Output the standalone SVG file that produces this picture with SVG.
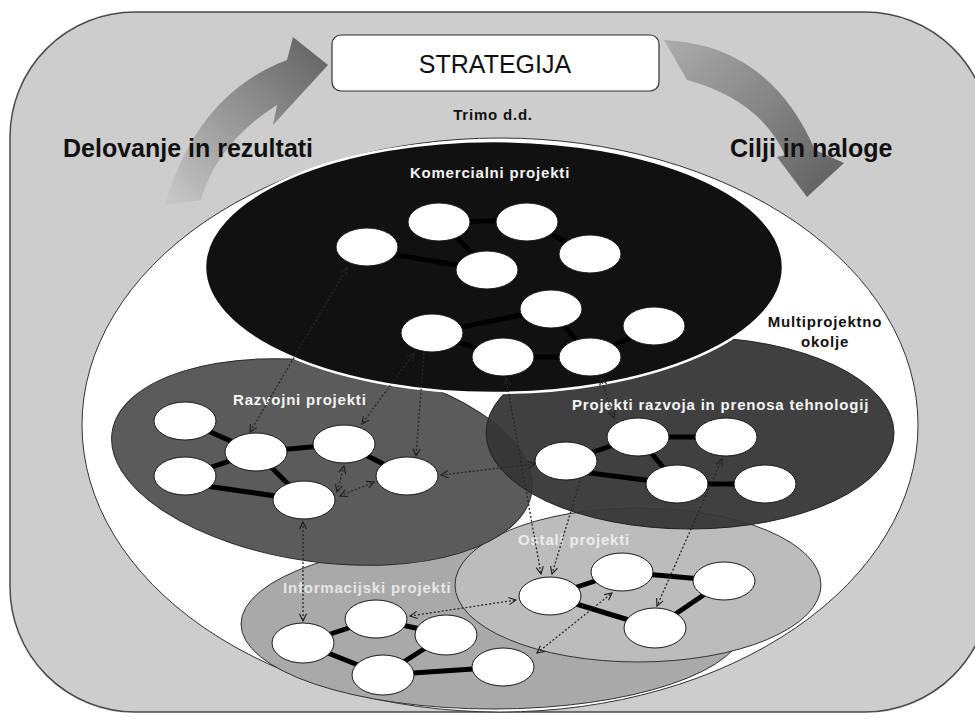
<svg xmlns="http://www.w3.org/2000/svg" width="975" height="719" viewBox="0 0 975 719">
<defs>
<linearGradient id="gL" gradientUnits="userSpaceOnUse" x1="175" y1="205" x2="318" y2="55">
<stop offset="0" stop-color="#c6c6c6"/><stop offset="0.45" stop-color="#9c9c9c"/><stop offset="1" stop-color="#686868"/>
</linearGradient>
<linearGradient id="gR" gradientUnits="userSpaceOnUse" x1="665" y1="45" x2="820" y2="190">
<stop offset="0" stop-color="#ababab"/><stop offset="1" stop-color="#646464"/>
</linearGradient>
<marker id="ah" viewBox="0 0 10 10" refX="9" refY="5" markerWidth="9" markerHeight="9" markerUnits="userSpaceOnUse" orient="auto-start-reverse">
<path d="M1,1 L9,5 L1,9" fill="none" stroke="#222" stroke-width="1.3"/>
</marker>
</defs>
<style>
.t{font-family:"Liberation Sans",Arial,sans-serif}
.lbl{font-size:15px;font-weight:bold;letter-spacing:0.8px}
.big{font-size:25px;font-weight:bold}
.w{fill:#f4f4f4}
.n ellipse{fill:#fff;stroke:#1a1a1a;stroke-width:1}
.link{stroke:#000;stroke-width:5;fill:none}
.dot{stroke:#262626;stroke-width:1.3;stroke-dasharray:2 2;fill:none;marker-start:url(#ah);marker-end:url(#ah)}
.dot1{stroke:#262626;stroke-width:1.3;stroke-dasharray:2 2;fill:none;marker-end:url(#ah)}
</style>
<rect width="975" height="719" fill="#fff"/>
<rect id="frame" x="10" y="12" width="980" height="700" rx="125" ry="125" fill="#cdcdcd" stroke="#4a4a4a" stroke-width="1.5"/>

<g id="arrow-left">
<path d="M165,205 Q197,94 287,60 L293,37 L328,65 L273,125 L277,105 Q217,143 201,200 Z" fill="url(#gL)"/>
</g>
<g id="arrow-right">
<path d="M664,40 Q770,45 815,150 L844,163 L807,197 L777,157 L785,155 Q760,100 687,80 Z" fill="url(#gR)"/>
</g>

<g id="strategija">
<rect x="332" y="35" width="327" height="56" rx="9" fill="#fff" stroke="#333" stroke-width="1.2"/>
<text class="t" x="495" y="73" font-size="25" text-anchor="middle" fill="#111">STRATEGIJA</text>
</g>
<text class="t lbl" x="493" y="120" text-anchor="middle" fill="#111">Trimo d.d.</text>
<text class="t big" x="63" y="157" fill="#111">Delovanje in rezultati</text>
<text class="t big" x="730" y="157" fill="#111">Cilji in naloge</text>

<g id="multiprojektno-okolje">
<ellipse cx="500" cy="425" rx="418" ry="287" fill="#fff" stroke="#333" stroke-width="1"/>
<text class="t lbl" x="825" y="327" text-anchor="middle" fill="#111">Multiprojektno</text>
<text class="t lbl" x="825" y="347" text-anchor="middle" fill="#111">okolje</text>
</g>

<g id="informacijski-projekti">
<ellipse cx="493" cy="624" rx="252" ry="85" fill="#a9a9a9" stroke="#333" stroke-width="1"/>
<text class="t lbl" x="283" y="593" fill="#e6e6e6">Informacijski projekti</text>
</g>
<g id="ostali-projekti">
<ellipse cx="638" cy="585" rx="183" ry="77" fill="#bcbcbc" stroke="#333" stroke-width="1"/>
<text class="t lbl" x="518" y="545" fill="#ececec">Ostali projekti</text>
</g>
<g id="razvojni-projekti">
<ellipse cx="322" cy="462" rx="212" ry="100" transform="rotate(8 322 462)" fill="#5b5b5b" stroke="#2a2a2a" stroke-width="1"/>
</g>
<g id="projekti-razvoja">
<ellipse cx="690" cy="433" rx="204" ry="96" fill="#363636" fill-opacity="0.95" stroke="#222" stroke-width="1"/>
</g>
<g id="komercialni-projekti">
<ellipse cx="494" cy="267" rx="289" ry="126" fill="#111" stroke="#fff" stroke-width="2.5"/>
<text class="t lbl w" x="490" y="178" text-anchor="middle">Komercialni projekti</text>
</g>
<text class="t lbl w" x="233" y="405">Razvojni projekti</text>
<text class="t lbl w" x="572" y="410">Projekti razvoja in prenosa tehnologij</text>

<g id="connectors">
<g id="links">
<!-- komercialni -->
<line class="link" x1="367" y1="250" x2="487" y2="270"/>
<line class="link" x1="439" y1="222" x2="527" y2="220"/>
<line class="link" x1="450" y1="230" x2="480" y2="262"/>
<line class="link" x1="527" y1="222" x2="590" y2="254"/>
<line class="link" x1="432" y1="333" x2="551" y2="309"/>
<line class="link" x1="432" y1="333" x2="503" y2="357"/>
<line class="link" x1="503" y1="357" x2="590" y2="357"/>
<line class="link" x1="551" y1="309" x2="580" y2="345"/>
<line class="link" x1="590" y1="357" x2="654" y2="326"/>
<!-- razvojni -->
<line class="link" x1="185" y1="421" x2="256" y2="452"/>
<line class="link" x1="185" y1="476" x2="256" y2="452"/>
<line class="link" x1="256" y1="452" x2="344" y2="444"/>
<line class="link" x1="256" y1="452" x2="304" y2="500"/>
<line class="link" x1="185" y1="483" x2="304" y2="500"/>
<line class="link" x1="344" y1="444" x2="407" y2="476"/>
<!-- projekti razvoja -->
<line class="link" x1="566" y1="461" x2="638" y2="437"/>
<line class="link" x1="638" y1="437" x2="726" y2="437"/>
<line class="link" x1="638" y1="437" x2="677" y2="484"/>
<line class="link" x1="566" y1="470" x2="677" y2="484"/>
<line class="link" x1="677" y1="484" x2="765" y2="484"/>
<!-- informacijski -->
<line class="link" x1="303" y1="643" x2="376" y2="619"/>
<line class="link" x1="376" y1="619" x2="446" y2="635"/>
<line class="link" x1="303" y1="643" x2="383" y2="675"/>
<line class="link" x1="446" y1="635" x2="383" y2="675"/>
<line class="link" x1="383" y1="675" x2="503" y2="667"/>
<!-- ostali -->
<line class="link" x1="550" y1="596" x2="622" y2="572"/>
<line class="link" x1="622" y1="572" x2="724" y2="581"/>
<line class="link" x1="550" y1="596" x2="655" y2="628"/>
<line class="link" x1="724" y1="581" x2="655" y2="628"/>
</g>
<g id="dotted">
<line class="dot" x1="347" y1="268" x2="250" y2="432"/>
<line class="dot" x1="414" y1="353" x2="362" y2="424"/>
<line class="dot1" x1="424" y1="353" x2="416" y2="456"/>
<line class="dot" x1="441" y1="475" x2="535" y2="464"/>
<line class="dot" x1="344" y1="466" x2="337" y2="492"/>
<line class="dot" x1="340" y1="496" x2="374" y2="482"/>
<line class="dot" x1="303" y1="522" x2="303" y2="621"/>
<line class="dot" x1="410" y1="616" x2="516" y2="600"/>
<line class="dot" x1="537" y1="653" x2="612" y2="593"/>
<line class="dot" x1="506" y1="378" x2="541" y2="574"/>
<line class="dot1" x1="580" y1="481" x2="552" y2="574"/>
<line class="dot" x1="722" y1="459" x2="657" y2="606"/>
<line class="dot" x1="601" y1="378" x2="614" y2="418"/>
</g>
</g>

<g id="k1" class="n"><ellipse cx="367" cy="247" rx="31" ry="19"/></g>
<g id="k2" class="n"><ellipse cx="439" cy="222" rx="31" ry="19"/></g>
<g id="k3" class="n"><ellipse cx="527" cy="222" rx="31" ry="19"/></g>
<g id="k4" class="n"><ellipse cx="590" cy="254" rx="31" ry="19"/></g>
<g id="k5" class="n"><ellipse cx="487" cy="270" rx="31" ry="19"/></g>
<g id="k6" class="n"><ellipse cx="551" cy="309" rx="31" ry="19"/></g>
<g id="k7" class="n"><ellipse cx="432" cy="333" rx="31" ry="19"/></g>
<g id="k8" class="n"><ellipse cx="654" cy="326" rx="31" ry="19"/></g>
<g id="k9" class="n"><ellipse cx="503" cy="357" rx="31" ry="19"/></g>
<g id="k10" class="n"><ellipse cx="590" cy="357" rx="31" ry="19"/></g>

<g id="r1" class="n"><ellipse cx="185" cy="421" rx="31" ry="19"/></g>
<g id="r2" class="n"><ellipse cx="185" cy="476" rx="31" ry="19"/></g>
<g id="r3" class="n"><ellipse cx="256" cy="452" rx="31" ry="19"/></g>
<g id="r4" class="n"><ellipse cx="344" cy="444" rx="31" ry="19"/></g>
<g id="r5" class="n"><ellipse cx="304" cy="500" rx="31" ry="19"/></g>
<g id="r6" class="n"><ellipse cx="407" cy="476" rx="31" ry="19"/></g>

<g id="p1" class="n"><ellipse cx="566" cy="461" rx="31" ry="19"/></g>
<g id="p2" class="n"><ellipse cx="638" cy="437" rx="31" ry="19"/></g>
<g id="p3" class="n"><ellipse cx="726" cy="437" rx="31" ry="19"/></g>
<g id="p4" class="n"><ellipse cx="677" cy="484" rx="31" ry="19"/></g>
<g id="p5" class="n"><ellipse cx="765" cy="484" rx="31" ry="19"/></g>

<g id="i1" class="n"><ellipse cx="303" cy="643" rx="31" ry="20"/></g>
<g id="i2" class="n"><ellipse cx="376" cy="619" rx="31" ry="19"/></g>
<g id="i3" class="n"><ellipse cx="446" cy="635" rx="31" ry="20"/></g>
<g id="i4" class="n"><ellipse cx="383" cy="675" rx="31" ry="20"/></g>
<g id="i5" class="n"><ellipse cx="503" cy="667" rx="31" ry="19"/></g>

<g id="o1" class="n"><ellipse cx="550" cy="596" rx="31" ry="19"/></g>
<g id="o2" class="n"><ellipse cx="622" cy="572" rx="31" ry="19"/></g>
<g id="o3" class="n"><ellipse cx="724" cy="581" rx="31" ry="19"/></g>
<g id="o4" class="n"><ellipse cx="655" cy="628" rx="31" ry="20"/></g>
</svg>
